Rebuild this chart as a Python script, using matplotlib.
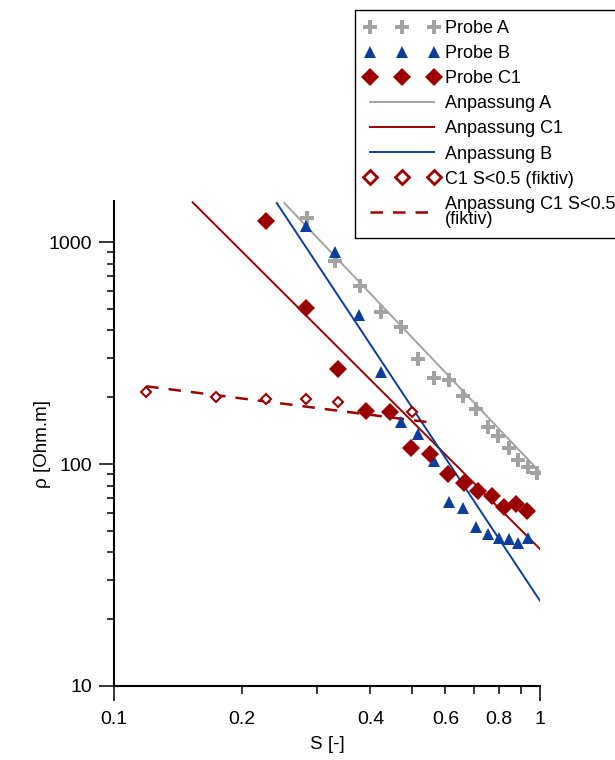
import matplotlib
matplotlib.use('Agg')
import matplotlib.pyplot as plt
import matplotlib.ticker as ticker

plt.rcParams['font.family'] = ['Liberation Sans', 'DejaVu Sans']
plt.rcParams['font.size'] = 13

GRAY = '#a3a3a3'
BLUE = '#0b3d9e'
RED = '#9b0000'

# Probe A
s_a = [0.284, 0.330, 0.378, 0.423, 0.472, 0.518, 0.565, 0.612, 0.658, 0.707,
       0.754, 0.798, 0.846, 0.889, 0.939, 0.982]
rho_a = [1279, 820, 634, 484, 414, 296, 245, 239, 202, 177,
         147, 134, 118, 104, 97, 91]

# Probe B
s_b = [0.283, 0.330, 0.3765, 0.423, 0.471, 0.518, 0.564, 0.611, 0.658, 0.707,
       0.754, 0.801, 0.847, 0.890, 0.939]
rho_b = [1186, 900, 469, 260, 155, 136, 103, 67.6, 63.1, 52.2,
         48.2, 46.2, 45.9, 44.0, 46.2]

# Probe C1
s_c1 = [0.2274, 0.2823, 0.336, 0.390, 0.4446, 0.498, 0.552, 0.607, 0.664,
        0.716, 0.770, 0.824, 0.878, 0.934]
rho_c1 = [1247, 502, 267, 174, 171, 118, 111, 90.2, 81.8,
          75.5, 71.8, 63.8, 66.1, 61.4]

# C1 S<0.5 (fiktiv)
s_c1f = [0.119, 0.1735, 0.2274, 0.2823, 0.336, 0.4996]
rho_c1f = [211, 201, 196, 196, 191, 171]

# fit lines (end points, straight in log-log)
fit_a_s, fit_a_rho = [0.251, 1.0], [1500, 92]
fit_b_s, fit_b_rho = [0.241, 1.0], [1500, 24.2]
fit_c1_s, fit_c1_rho = [0.153, 1.0], [1510, 41.4]
fit_c1f_s, fit_c1f_rho = [0.119, 0.552], [224, 154]

fig = plt.figure(figsize=(6.15, 7.6), dpi=100)
ax = fig.add_axes([114 / 615, 1 - 686 / 760, 426 / 615, 485 / 760])

ax.plot(s_a, rho_a, 'P', color=GRAY, ms=9.5, mew=0, label='Probe A', zorder=5)
ax.plot(s_b, rho_b, '^', color=BLUE, ms=8.5, mew=0, label='Probe B', zorder=5)
ax.plot(s_c1, rho_c1, 'D', color=RED, ms=9, mew=0, label='Probe C1', zorder=5)
ax.plot(fit_a_s, fit_a_rho, '-', color=GRAY, lw=1.4, label='Anpassung A')
ax.plot(fit_c1_s, fit_c1_rho, '-', color=RED, lw=1.4, label='Anpassung C1')
ax.plot(fit_b_s, fit_b_rho, '-', color=BLUE, lw=1.4, label='Anpassung B')
ax.plot(s_c1f, rho_c1f, 'D', color=RED, mfc='white', ms=5, mew=1.5,
        label='C1 S<0.5 (fiktiv)', zorder=5)
ax.plot(fit_c1f_s, fit_c1f_rho, '--', color=RED, lw=1.8, dashes=(5, 4),
        label='Anpassung C1 S<0.5\n(fiktiv)')

ax.set_xscale('log')
ax.set_yscale('log')
ax.set_xlim(0.1, 1)
ax.set_ylim(10, 1531)

for side in ['top', 'right']:
    ax.spines[side].set_visible(False)
for side in ['left', 'bottom']:
    ax.spines[side].set_linewidth(1.5)

ax.xaxis.set_major_locator(ticker.FixedLocator([0.1, 1]))
ax.xaxis.set_major_formatter(ticker.FixedFormatter(['0.1', '1']))
ax.xaxis.set_minor_locator(ticker.FixedLocator([0.2, 0.3, 0.4, 0.5, 0.6, 0.7, 0.8, 0.9]))
ax.xaxis.set_minor_formatter(ticker.FixedFormatter(['0.2', '', '0.4', '', '0.6', '', '0.8', '']))
ax.yaxis.set_major_locator(ticker.FixedLocator([10, 100, 1000]))
ax.yaxis.set_major_formatter(ticker.FixedFormatter(['10', '100', '1000']))
ax.yaxis.set_minor_locator(ticker.LogLocator(base=10, subs=range(2, 10)))
ax.yaxis.set_minor_formatter(ticker.NullFormatter())

ax.tick_params(axis='x', which='major', direction='out', length=11, width=1.1, pad=7, labelsize=14)
ax.tick_params(axis='x', which='minor', direction='out', length=6, width=1.1, pad=12, labelsize=14)
ax.tick_params(axis='y', which='major', direction='out', length=10.5, width=1.1, pad=5, labelsize=14)
ax.tick_params(axis='y', which='minor', direction='out', length=5, width=1.1)

ax.set_xlabel('S [-]', fontsize=13.5)
ax.set_ylabel('ρ [Ohm.m]', fontsize=13.5)
ax.xaxis.set_label_coords(0.5, -0.103)
ax.yaxis.set_label_coords(-0.148, 0.5)

leg = fig.legend(*ax.get_legend_handles_labels(), loc='upper left',
                 bbox_to_anchor=(355 / 615, 1 - 10 / 760), borderaxespad=0,
                 numpoints=3, handlelength=4.1, handletextpad=0.35,
                 labelspacing=0.45, borderpad=0.55, fancybox=False,
                 framealpha=1, edgecolor='black', fontsize=13)
leg.get_frame().set_linewidth(1.0)
for t in leg.get_texts():
    t.set_linespacing(0.85)
leg.legend_handles[6].set_markersize(7)
leg.legend_handles[6].set_markeredgewidth(2)

fig.savefig('out.png', dpi=100)
